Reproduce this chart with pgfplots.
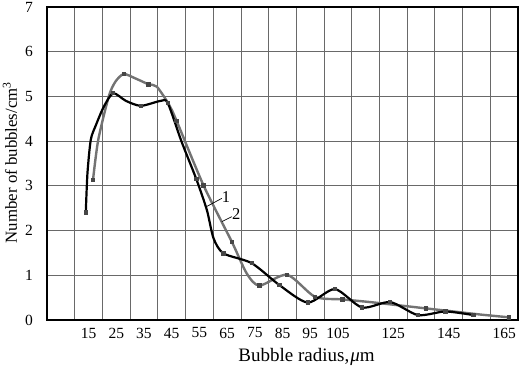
\documentclass[border=0pt]{standalone}
\usepackage{fontspec}
\setmainfont{Liberation Serif}
\usepackage{pgfplots}
\pgfplotsset{compat=1.18}
\definecolor{curvegray}{RGB}{115,115,115}
\definecolor{gridgray}{RGB}{105,105,105}
\definecolor{markgray}{RGB}{70,70,70}
\begin{document}
\begin{tikzpicture}
\begin{axis}[
  scale only axis,
  width=471pt, height=313pt,
  xmin=0, xmax=170, ymin=0, ymax=7,
  xtick={15,25,35,45,55,65,75,85,95,105,125,145,165},
  minor xtick={10,20,...,160},
  ytick={0,1,...,7},
  xminorgrids=true, ymajorgrids=true,
  minor grid style={gridgray, line width=0.8pt},
  major grid style={gridgray, line width=0.8pt},
  major tick length=0pt, minor tick length=0pt,
  axis line style={line width=1.6pt},
  tick label style={font=\fontsize{15.5}{18}\selectfont},
  /pgf/number format/assume math mode=true,
  xticklabel style={anchor=center, yshift=-13pt},
  yticklabel style={anchor=center, xshift=-18pt},
  xlabel={Bubble radius,\kern1pt\textit{μ}m},
  ylabel={Number of bubbles/cm\textsuperscript{3}},
  xlabel style={font=\fontsize{19}{22}\selectfont, at={(axis description cs:0.551,-0.118)}, anchor=center},
  ylabel style={font=\fontsize{16.8}{20}\selectfont, at={(axis description cs:-0.0786,0.503)}, anchor=center},
  clip=false,
]
\coordinate (ll) at (rel axis cs:0,0);
\coordinate (ur) at (rel axis cs:1,1);
% curve 2 (gray) line
\addplot[curvegray, line width=2.4pt, smooth, tension=0.45]
coordinates {
(16.6,3.13) (18.5,4.03) (22.3,5.0) (24.7,5.33) (27.7,5.50) (32,5.40) (36.7,5.27) (39.6,5.22) (44,4.82) (46.8,4.45) (56.5,3.01)
(66.7,1.75) (72.1,1.04) (76.7,0.77) (86.7,1.01) (96.7,0.52) (106.7,0.46) (116.7,0.40)
(126.7,0.33) (136.7,0.26) (146.7,0.19) (156.7,0.12) (166.7,0.06)
};
\addplot[only marks, mark=square*, mark size=1.7pt, mark options={markgray, fill=markgray, line width=0pt}]
coordinates {
(16.6,3.13) (27.7,5.50) (36.7,5.27) (46.8,4.45) (56.5,3.01)
(66.7,1.75) (76.7,0.77) (86.7,1.01) (96.7,0.52) (106.7,0.46)
(136.7,0.26) (166.7,0.06)
};
% curve 1 (black) line
\addplot[black, line width=2.2pt, smooth, tension=0.45]
coordinates {
(14,2.40) (14.6,3.28) (15.8,4.03) (17.6,4.35) (20.5,4.77) (23.9,5.07) (28.5,4.90) (33.9,4.79) (41,4.90) (43.6,4.85)
(48.5,4.0) (53.9,3.15) (57.7,2.46) (60.1,1.83) (63.7,1.49)
(73.9,1.27) (83.9,0.78) (94.1,0.39) (103.9,0.69) (113.7,0.28) (123.9,0.40)
(133.9,0.11) (143.8,0.19) (153.9,0.11)
};
\addplot[only marks, mark=square*, mark size=1.7pt, mark options={markgray, fill=markgray, line width=0pt}]
coordinates {
(14,2.40) (23.9,5.07) (33.9,4.79) (43.6,4.85) (53.9,3.15) (63.7,1.49)
(73.9,1.27) (83.9,0.78) (94.1,0.39) (103.9,0.69) (113.7,0.28) (123.9,0.40)
(133.9,0.11) (143.8,0.19) (153.9,0.11)
};
\draw[black, line width=0.7pt] (axis cs:57.1,2.52) -- (axis cs:63.1,2.72);
\draw[black, line width=0.7pt] (axis cs:63.1,2.20) -- (axis cs:66.7,2.31);
\node[font=\fontsize{16.5}{19}\selectfont, inner sep=0pt] at (axis cs:64.6,2.74) {1};
\node[font=\fontsize{16.5}{19}\selectfont, inner sep=0pt] at (axis cs:68.3,2.37) {2};
\end{axis}
\pgfresetboundingbox
\path[use as bounding box] ([shift={(-47pt,-49pt)}]ll) rectangle ([shift={(7pt,7pt)}]ur);
\end{tikzpicture}
\end{document}
